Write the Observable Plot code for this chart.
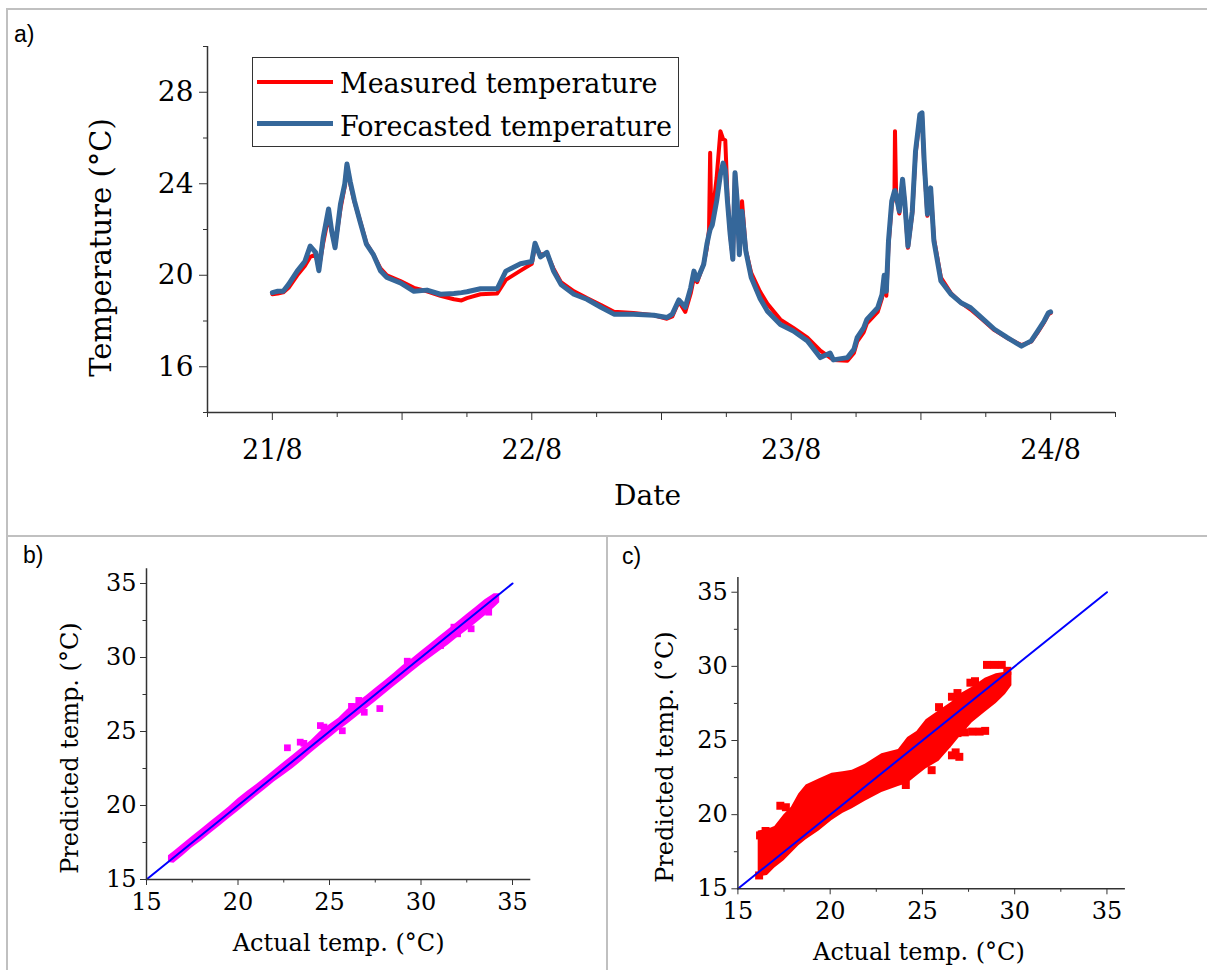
<!DOCTYPE html>
<html><head><meta charset="utf-8">
<script src="https://cdn.jsdelivr.net/npm/d3@7"></script>
<script src="https://cdn.jsdelivr.net/npm/@observablehq/plot@0.6"></script>
<style>
body{margin:0;background:#fff;}
#root{position:relative;width:1207px;height:970px;overflow:hidden;background:#fff;}
.panel{position:absolute;}
.border{position:absolute;background:#c0c0c0;}
.plabel{position:absolute;font-family:"Liberation Sans",Arial,sans-serif;font-size:23px;line-height:23px;color:#000;white-space:nowrap;}
.legend{position:absolute;left:252px;top:57px;width:427px;height:90px;border:1.3px solid #333;box-sizing:border-box;background:#fff;}
.sw{position:absolute;height:4px;}
.lt{position:absolute;font-family:"DejaVu Serif",serif;font-size:27px;line-height:27px;white-space:nowrap;color:#000;}
</style></head>
<body><div id="root"></div>
<script>
// ---------- Panel a data: hours since 21/8 00:00 ----------
const hours = [0, 0.5, 1.0, 1.5, 2.3, 3.0, 3.5, 4.0, 4.3, 4.7, 5.2, 5.5, 5.8, 6.3, 6.7, 6.9, 7.2, 7.6, 8.1, 8.7, 9.35, 10.0, 10.6, 11.85, 13.1, 14.3, 15.55, 16.8, 17.5, 18.0, 19.25, 20.8, 21.6, 22.96, 24.0, 24.3, 24.8, 25.4, 26.0, 26.7, 27.9, 29.1, 30.4, 31.6, 33.4, 35.3, 36.5, 37.0, 37.6, 38.2, 38.7, 39.0, 39.3, 39.9, 40.2, 40.4, 40.5, 40.6, 40.7, 41.1, 41.45, 41.7, 41.9, 42.1, 42.35, 42.6, 42.8, 43.0, 43.2, 43.45, 43.8, 44.3, 45.1, 45.8, 47.0, 48.2, 49.5, 50.7, 51.6, 51.9, 53.2, 53.8, 54.1, 54.7, 55.0, 56.0, 56.4, 56.6, 56.8, 57.0, 57.3, 57.55, 57.6, 57.7, 58.0, 58.3, 58.5, 58.8, 59.2, 59.5, 59.9, 60.1, 60.3, 60.6, 60.9, 61.2, 61.85, 62.8, 63.7, 64.6, 65.6, 66.8, 68.0, 69.3, 70.2, 70.8, 71.4, 71.8, 72.0];
const measured = [19.17, 19.2, 19.25, 19.45, 20.0, 20.4, 20.8, 20.9, 20.3, 21.4, 22.6, 21.9, 21.3, 22.9, 23.9, 24.8, 24.0, 23.2, 22.4, 21.4, 20.9, 20.3, 20.0, 19.75, 19.45, 19.3, 19.1, 18.95, 18.9, 19.0, 19.17, 19.2, 19.8, 20.2, 20.5, 21.3, 20.9, 20.95, 20.3, 19.7, 19.3, 19.0, 18.7, 18.4, 18.35, 18.25, 18.1, 18.2, 18.85, 18.4, 19.2, 19.9, 19.7, 20.5, 21.2, 22.0, 25.35, 22.5, 22.6, 24.26, 26.3, 25.95, 25.9, 23.5, 21.8, 20.7, 24.48, 23.24, 21.0, 23.24, 21.1, 20.1, 19.3, 18.75, 18.06, 17.7, 17.27, 16.7, 16.4, 16.3, 16.26, 16.6, 17.1, 17.5, 17.9, 18.4, 19.0, 19.8, 19.1, 21.3, 23.1, 23.5, 26.3, 23.6, 22.7, 24.1, 23.2, 21.2, 22.7, 25.3, 26.9, 27.0, 24.9, 22.6, 23.8, 21.6, 19.9, 19.2, 18.8, 18.5, 18.1, 17.6, 17.25, 16.95, 17.1, 17.5, 17.95, 18.3, 18.35];
const forecasted = [19.24, 19.3, 19.3, 19.6, 20.18, 20.6, 21.27, 21.0, 20.2, 21.64, 22.9, 21.9, 21.2, 23.1, 24.0, 24.86, 24.1, 23.24, 22.37, 21.36, 20.9, 20.2, 19.9, 19.67, 19.3, 19.35, 19.17, 19.2, 19.24, 19.28, 19.41, 19.41, 20.18, 20.5, 20.6, 21.4, 20.8, 21.0, 20.2, 19.6, 19.17, 18.95, 18.6, 18.3, 18.3, 18.25, 18.15, 18.3, 18.92, 18.6, 19.45, 20.18, 19.8, 20.47, 21.36, 21.8, 22.0, 22.1, 22.2, 23.24, 24.4, 24.9, 24.6, 23.24, 21.8, 20.7, 24.48, 23.24, 20.9, 22.8, 21.06, 19.9, 19.0, 18.43, 17.85, 17.56, 17.13, 16.4, 16.6, 16.3, 16.4, 16.76, 17.27, 17.7, 18.07, 18.58, 19.16, 20.0, 19.3, 21.5, 23.24, 23.68, 23.7, 23.5, 22.8, 24.2, 23.24, 21.27, 22.8, 25.42, 27.03, 27.1, 24.99, 22.67, 23.82, 21.5, 19.75, 19.16, 18.8, 18.58, 18.15, 17.64, 17.27, 16.9, 17.13, 17.56, 18.0, 18.36, 18.4];
const dateTicks = [0, 24, 48, 72];
const dateLabels = ["21/8", "22/8", "23/8", "24/8"];
const xMajorA = [0, 12, 24, 36, 48, 60, 72];
const xMinorA = [-6, 6, 18, 30, 42, 54, 66, 78];
const yMajorA = [16, 20, 24, 28];
const yMinorA = [14, 18, 22, 26, 30];
const seriesNames = ["Measured temperature", "Forecasted temperature"];

// ---------- Panel b data ----------
const bActual = [16.2, 16.5, 17, 17.5, 18, 18.5, 19, 19.5, 20, 20.5, 21, 21.5, 22, 22.5, 23, 23.5, 24, 24.5, 25, 25.5, 26, 26.5, 27, 27.5, 28, 28.5, 29, 29.5, 30, 30.5, 31, 31.5, 32, 32.5, 33, 33.5, 34, 34.3];
const bLow = [16.15, 16.1, 16.6, 17.15, 17.6, 18.1, 18.6, 19.1, 19.6, 20.1, 20.6, 21.1, 21.6, 22.05, 22.5, 23.0, 23.55, 24.05, 24.55, 25.05, 25.5, 26.0, 26.5, 27.0, 27.5, 28.0, 28.5, 29.0, 29.5, 29.95, 30.4, 30.85, 31.35, 31.8, 32.3, 32.8, 33.35, 33.7];
const bHigh = [16.6, 16.9, 17.4, 17.9, 18.4, 18.9, 19.4, 19.9, 20.45, 20.95, 21.4, 21.9, 22.4, 22.9, 23.4, 23.9, 24.4, 25.0, 25.45, 25.9, 26.5, 26.95, 27.4, 27.9, 28.4, 28.9, 29.45, 29.9, 30.4, 30.9, 31.4, 31.9, 32.4, 32.9, 33.4, 33.9, 34.3, 34.3];
const bOutActual = [22.7, 23.4, 23.6, 24.5, 24.7, 25.7, 26.2, 26.6, 26.9, 27.75, 29.25, 31.07, 31.8, 32.0, 32.74, 33.7];
const bOutPred = [23.9, 24.28, 24.2, 25.4, 25.3, 25.05, 26.7, 27.1, 26.3, 26.55, 29.75, 30.81, 32.05, 31.6, 31.94, 33.06];

// ---------- Panel c data ----------
const cActual = [16.1, 16.6, 17.0, 17.5, 17.9, 18.3, 18.7, 19.4, 20.1, 20.7, 21.2, 21.9, 22.8, 23.7, 24.2, 24.7, 25.2, 25.9, 26.6, 27.0, 27.7, 28.4, 29.0, 29.5, 29.85];
const cLow = [15.8, 15.9, 16.4, 16.9, 17.4, 17.9, 18.3, 18.9, 19.6, 20.1, 20.4, 20.9, 21.5, 21.9, 22.1, 22.6, 23.1, 23.6, 24.6, 25.2, 26.2, 26.9, 27.5, 28.1, 28.7];
const cHigh = [18.9, 19.0, 19.2, 20.0, 20.5, 21.4, 22.0, 22.4, 22.8, 22.9, 23.0, 23.4, 24.1, 24.4, 25.2, 25.6, 26.4, 27.0, 27.6, 28.1, 28.6, 29.2, 29.5, 29.6, 29.6];
const cOutActual = [17.3, 17.6, 25.9, 26.6, 26.9, 27.6, 27.85, 28.5, 28.9, 29.3, 29.6, 26.5, 26.9, 27.3, 27.7, 28.1, 28.4, 26.3, 26.6, 27.0, 26.8, 25.5, 24.1, 16.2, 16.5, 16.15];
const cOutPred = [20.6, 20.5, 27.25, 27.95, 28.2, 28.9, 29.0, 30.1, 30.1, 30.1, 29.7, 25.5, 25.5, 25.55, 25.6, 25.6, 25.65, 24.8, 24.0, 23.9, 24.2, 23.0, 22.0, 18.6, 18.9, 15.9];

const diagX = [15, 35];
const diagY = [15, 35];
const majorBC = [15, 20, 25, 30, 35];
const minorBC = [17.5, 22.5, 27.5, 32.5];
const titleA_y = "Temperature (°C)";
const titleA_x = "Date";
const titlePred = "Predicted temp. (°C)";
const titleAct = "Actual temp. (°C)";

const root = document.getElementById("root");
const AX = "#333";
const blank = () => "";

// ---------- Panel a ----------
const aRows = hours.map((h, i) => ({h, m: measured[i], f: forecasted[i]}));
const plotA = Plot.plot({
  width: 1207, height: 535,
  marginLeft: 207, marginRight: 92, marginTop: 46, marginBottom: 123,
  x: {domain: [-6, 78]},
  y: {domain: [14, 30]},
  style: {fontFamily: "'DejaVu Serif', serif", fontSize: "28px", color: "#000", background: "transparent", overflow: "visible"},
  marks: [
    Plot.line(aRows, {x: "h", y: "m", stroke: "#ff0000", strokeWidth: 4}),
    Plot.line(aRows, {x: "h", y: "f", stroke: "#35679a", strokeWidth: 5}),
    Plot.ruleX([-6], {stroke: AX, strokeWidth: 1.5}),
    Plot.ruleY([14], {stroke: AX, strokeWidth: 1.5}),
    Plot.axisY({ticks: yMajorA, tickSize: 8, tickPadding: 6, fontSize: 28, label: null, stroke: AX}),
    Plot.axisY({ticks: yMinorA, tickSize: 4, tickFormat: blank, label: null, stroke: AX}),
    Plot.axisX({ticks: xMajorA, tickSize: 8, tickFormat: blank, label: null, stroke: AX}),
    Plot.axisX({ticks: xMinorA, tickSize: 5, tickFormat: blank, label: null, stroke: AX}),
    Plot.axisX({ticks: dateTicks, tickSize: 0, tickPadding: 27, fontSize: 27, label: null,
      tickFormat: d => dateLabels[dateTicks.indexOf(d)]}),
    Plot.text([titleA_y], {text: d => d, frameAnchor: "left", textAnchor: "middle", lineAnchor: "middle", rotate: -90, dx: -106, dy: 18, fontSize: 29}),
    Plot.text([titleA_x], {text: d => d, frameAnchor: "bottom", textAnchor: "middle", lineAnchor: "middle", dx: -14, dy: 84, fontSize: 28})
  ]
});
plotA.classList.add("panel");
plotA.style.left = "0px"; plotA.style.top = "0px";
root.appendChild(plotA);

// ---------- scatter panel builder ----------
function scatterPanel({left, top, width, height, mL, mR, mT, mB, lo, hi, xs, outX, outY, color, r, titleDx, yTitleDx, yTitleDy}) {
  const band = xs.map((x, i) => ({x, lo: lo[i], hi: hi[i]}));
  const outs = outX.map((x, i) => ({x, y: outY[i]}));
  const diag = diagX.map((x, i) => ({x, y: diagY[i]}));
  const p = Plot.plot({
    width, height, marginLeft: mL, marginRight: mR, marginTop: mT, marginBottom: mB,
    x: {domain: [15, 36]}, y: {domain: [15, 36]},
    style: {fontFamily: "'DejaVu Serif', serif", fontSize: "24px", color: "#000", background: "transparent", overflow: "visible"},
    marks: [
      Plot.areaY(band, {x: "x", y1: "lo", y2: "hi", fill: color}),
      Plot.dot(outs, {x: "x", y: "y", symbol: "square", fill: color, r}),
      Plot.line(diag, {x: "x", y: "y", stroke: "#0000ff", strokeWidth: 2}),
      Plot.ruleX([15], {stroke: AX, strokeWidth: 1.5}),
      Plot.ruleY([15], {stroke: AX, strokeWidth: 1.5}),
      Plot.axisY({ticks: majorBC, tickSize: 6, tickPadding: 4, fontSize: 24, label: null, stroke: AX}),
      Plot.axisY({ticks: minorBC, tickSize: 3.5, tickFormat: blank, label: null, stroke: AX}),
      Plot.axisX({ticks: majorBC, tickSize: 6, tickPadding: 7, fontSize: 24, label: null, stroke: AX}),
      Plot.axisX({ticks: minorBC, tickSize: 3.5, tickFormat: blank, label: null, stroke: AX}),
      Plot.text([titlePred], {text: d => d, frameAnchor: "left", textAnchor: "middle", lineAnchor: "middle", rotate: -90, dx: yTitleDx, dy: yTitleDy, fontSize: 24}),
      Plot.text([titleAct], {text: d => d, frameAnchor: "bottom", textAnchor: "middle", lineAnchor: "middle", dx: titleDx, dy: 64, fontSize: 24})
    ]
  });
  p.classList.add("panel");
  p.style.left = left + "px"; p.style.top = top + "px";
  root.appendChild(p);
}

scatterPanel({left: 0, top: 535, width: 607, height: 435, mL: 146, mR: 76.7, mT: 33.2, mB: 91,
  lo: bLow, hi: bHigh, xs: bActual, outX: bOutActual, outY: bOutPred, color: "#ff00ff", r: 3.8, titleDx: 0, yTitleDx: -76, yTitleDy: 24});
scatterPanel({left: 607, top: 535, width: 600, height: 435, mL: 130.4, mR: 82.1, mT: 41.9, mB: 81.7,
  lo: cLow, hi: cHigh, xs: cActual, outX: cOutActual, outY: cOutPred, color: "#ff0000", r: 4.5, titleDx: -12.7, yTitleDx: -72.4, yTitleDy: 24});

// ---------- legend (panel a) ----------
const leg = document.createElement("div");
leg.className = "legend";
const swColors = ["#ff0000", "#35679a"];
const swTop = [22, 63];
const txtTop = [12, 55];
seriesNames.forEach((name, i) => {
  const s = document.createElement("div");
  s.className = "sw";
  s.style.left = "4px"; s.style.width = "76px"; s.style.top = swTop[i] + "px";
  s.style.background = swColors[i];
  if (i === 1) s.style.height = "5px";
  leg.appendChild(s);
  const t = document.createElement("div");
  t.className = "lt";
  t.style.left = "87px"; t.style.top = txtTop[i] + "px";
  t.textContent = name;
  leg.appendChild(t);
});
root.appendChild(leg);

// ---------- panel labels ----------
const panelLabels = [["a)", 14, 22.5], ["b)", 23, 543.5], ["c)", 622, 545]];
panelLabels.forEach(([txt, x, y]) => {
  const d = document.createElement("div");
  d.className = "plabel";
  d.style.left = x + "px"; d.style.top = y + "px";
  d.textContent = txt;
  root.appendChild(d);
});

// ---------- frame borders ----------
const borders = [[6, 7.5, 1201, 2], [5.5, 8, 2, 962], [6, 534.5, 1201, 2], [606, 535, 2, 435]];
borders.forEach(([x, y, w, h]) => {
  const b = document.createElement("div");
  b.className = "border";
  b.style.left = x + "px"; b.style.top = y + "px"; b.style.width = w + "px"; b.style.height = h + "px";
  root.appendChild(b);
});
</script>
</body></html>
